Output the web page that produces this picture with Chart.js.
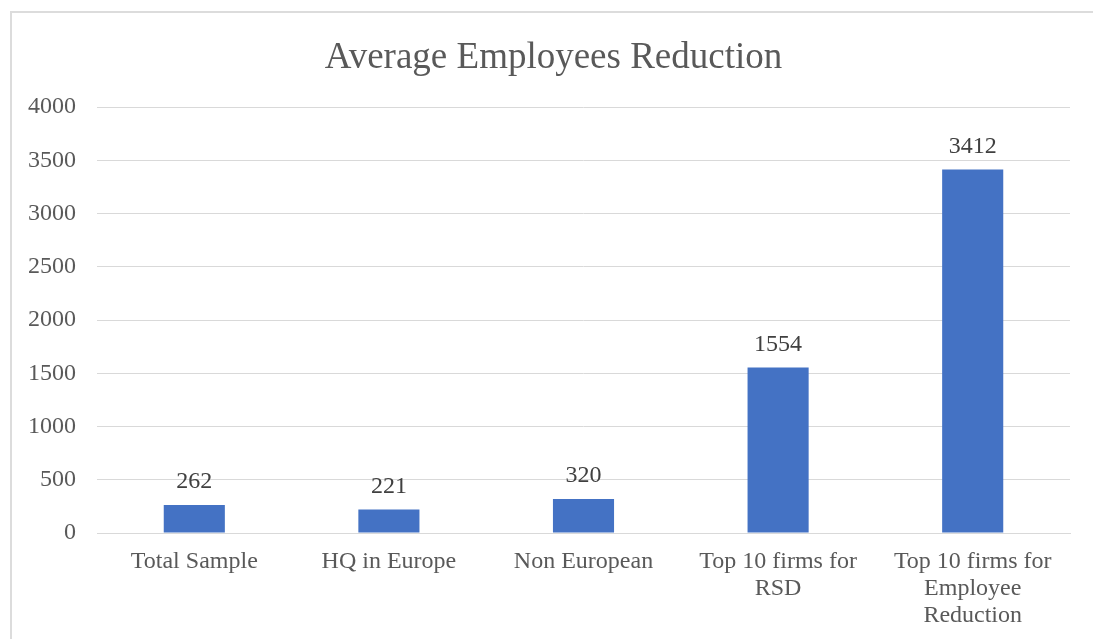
<!DOCTYPE html>
<html>
<head>
<meta charset="utf-8">
<script src="https://cdn.jsdelivr.net/npm/chart.js@4"></script>
<style>
  html, body { margin: 0; padding: 0; background: #fff; overflow: hidden; }
  #frame {
    position: absolute; left: 10px; top: 11px;
    width: 1083px; height: 628px;
    border-left: 2px solid #dcdcdc;
    border-top: 2px solid #dcdcdc;
  }
  #box { position: absolute; left: 0; top: 0; width: 1081px; height: 626px; }
</style>
</head>
<body>
<div id="frame">
  <div id="box"><canvas id="employeesChart"></canvas></div>
</div>
<script>
const chartTitle = "Average Employees Reduction";
const categories = [
  "Total Sample",
  "HQ in Europe",
  "Non European",
  ["Top 10 firms for", "RSD"],
  ["Top 10 firms for", "Employee", "Reduction"]
];
const reductions = [262, 221, 320, 1554, 3412];
const yTicks = [0, 500, 1000, 1500, 2000, 2500, 3000, 3500, 4000];

const serif = "'Liberation Serif', 'Times New Roman', serif";

// heading centred on the whole canvas, value labels above each bar
const chartText = {
  id: "chartText",
  afterDraw(chart) {
    const ctx = chart.ctx;
    ctx.save();
    ctx.textAlign = "center";
    ctx.textBaseline = "middle";

    ctx.font = "37px " + serif;
    ctx.fillStyle = "#595959";
    ctx.fillText(chartTitle, chart.width / 2 + 1, 45);

    ctx.font = "24px " + serif;
    ctx.fillStyle = "#404040";
    chart.getDatasetMeta(0).data.forEach((bar, i) => {
      ctx.fillText(String(reductions[i]), bar.x, bar.y - 23);
    });
    ctx.restore();
  }
};

new Chart(document.getElementById("employeesChart"), {
  type: "bar",
  data: {
    labels: categories,
    datasets: [
      {
        label: chartTitle,
        data: reductions,
        backgroundColor: "#4472C4",
        borderWidth: 0,
        categoryPercentage: 1,
        barPercentage: 0.314
      }
    ]
  },
  options: {
    responsive: true,
    maintainAspectRatio: false,
    animation: false,
    layout: { padding: { left: 0, right: 23, top: 94, bottom: 0 } },
    plugins: {
      legend: { display: false },
      tooltip: { enabled: false },
      title: { display: false }
    },
    scales: {
      x: {
        grid: { display: false, drawTicks: false },
        border: { display: true, color: "#d9d9d9", width: 1 },
        ticks: {
          color: "#595959",
          padding: 15,
          maxRotation: 0,
          autoSkip: false,
          font: { family: serif, size: 24, lineHeight: 1.125 }
        },
        afterFit(scale) { scale.height = 106; }
      },
      y: {
        min: 0,
        max: 4000,
        afterBuildTicks(scale) {
          scale.ticks = yTicks.map(v => ({ value: v }));
        },
        grid: { color: "#d9d9d9", lineWidth: 1, drawTicks: false },
        border: { display: false },
        ticks: {
          color: "#595959",
          padding: 21,
          font: { family: serif, size: 24 },
          callback: (value) => String(value)
        },
        afterFit(scale) { scale.width = 85; }
      }
    }
  },
  plugins: [chartText]
});
</script>
</body>
</html>
